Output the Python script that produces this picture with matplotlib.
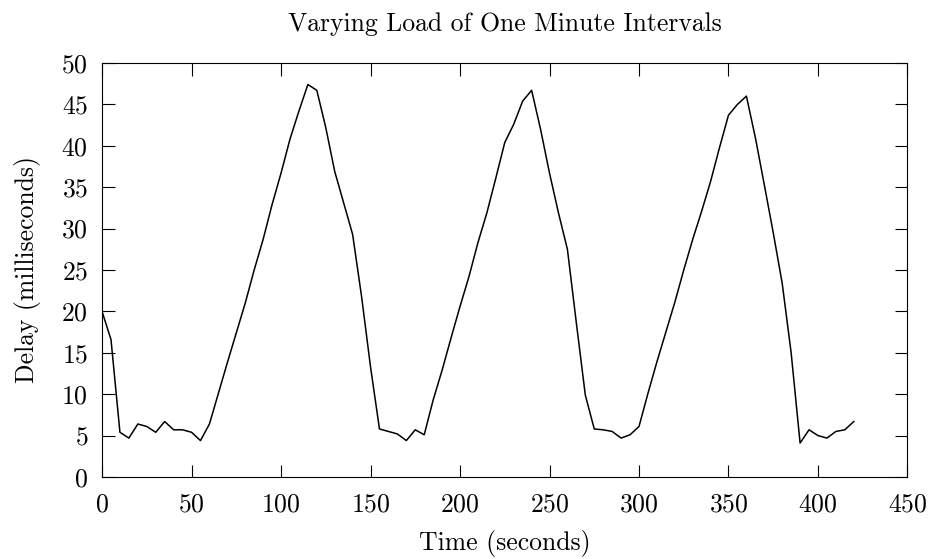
import matplotlib
matplotlib.use('Agg')
import matplotlib.pyplot as plt
import numpy

# delay readings, one every 5 seconds
time_s = numpy.arange(0, 425, 5)
delay_ms = [20.0, 16.6, 5.4, 4.7, 6.4, 6.1, 5.4, 6.7, 5.7, 5.7,
            5.4, 4.4, 6.4, 10.1, 13.8, 17.4, 21.0, 25.0, 28.7, 32.9,
            36.7, 40.8, 44.2, 47.4, 46.7, 42.2, 36.9, 33.1, 29.3, 21.8,
            13.3, 5.8, 5.5, 5.2, 4.4, 5.7, 5.1, 9.3, 12.9, 16.8,
            20.6, 24.2, 28.3, 31.9, 36.1, 40.4, 42.6, 45.4, 46.7, 42.0,
            36.7, 31.9, 27.5, 18.6, 9.9, 5.8, 5.7, 5.5, 4.7, 5.1,
            6.1, 10.1, 13.9, 17.5, 21.1, 25.0, 28.7, 32.1, 35.7, 39.8,
            43.7, 45.0, 46.0, 41.0, 35.3, 29.5, 23.4, 15.0, 4.1, 5.7,
            5.0, 4.7, 5.5, 5.7, 6.7]
x_ticks = range(0, 451, 50)
y_ticks = range(0, 51, 5)

plt.rcParams['font.family'] = 'serif'
plt.rcParams['font.serif'] = ['cmr10', 'DejaVu Serif']
plt.rcParams['axes.formatter.use_mathtext'] = True

fig = plt.figure(figsize=(9.37, 5.59), dpi=100)
ax = fig.add_axes([0.1089, 0.1467, 0.8596, 0.7406])

ax.plot(time_s, delay_ms, color='black', linewidth=1.1)

ax.set_xlim(0, 450)
ax.set_ylim(0, 50)
ax.set_xticks(x_ticks)
ax.set_yticks(y_ticks)
ax.tick_params(direction='in', length=9, width=0.8, top=True, right=True,
               labelsize=18.5)
ax.tick_params(axis='x', pad=11)
ax.tick_params(axis='y', pad=10)
for s in ax.spines.values():
    s.set_linewidth(0.8)

ax.set_xlabel('Time (seconds)', fontsize=18.5, labelpad=10)
ax.set_ylabel('Delay (milliseconds)', fontsize=18.5, labelpad=15)
ax.set_title('Varying Load of One Minute Intervals', fontsize=18.5, pad=23)

fig.savefig('out.png', dpi=100)
